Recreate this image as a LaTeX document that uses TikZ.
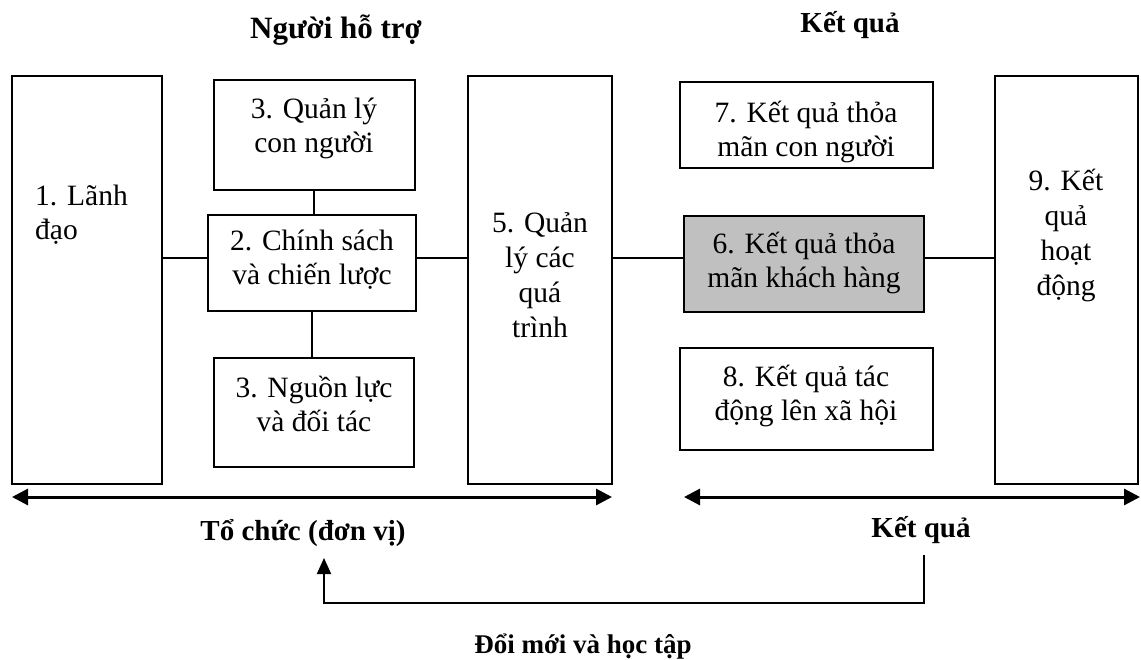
\documentclass[tikz,border=0pt]{standalone}
\usepackage{fontspec}
\setmainfont{Liberation Serif}
\usetikzlibrary{arrows.meta}
\newcommand{\mlines}[2][c]{\begin{tabular}[t]{@{}#1@{}}#2\end{tabular}}
\begin{document}
\begin{tikzpicture}[x=1pt,y=-1pt,
  box/.style={draw=black, line width=2pt, inner sep=0pt},
  txt/.style={anchor=base, inner sep=0pt, font=\fontsize{29.5}{34}\selectfont},
  lbl/.style={anchor=base, inner sep=0pt, font=\bfseries\fontsize{29}{34}\selectfont},
  conn/.style={line width=2pt},
  dbl/.style={line width=3pt, {Triangle[length=16pt,width=16pt]}-{Triangle[length=16pt,width=16pt]}},
  fb/.style={line width=2pt, -{Triangle[length=16pt,width=14pt]}}]
\useasboundingbox (0,0) rectangle (1141,659);
% boxes
\node[box, minimum width=150pt, minimum height=408pt] (b1) at (87,280) {};
\node[box, minimum width=201pt, minimum height=110pt] (b3a) at (314.5,135) {};
\node[box, minimum width=208pt, minimum height=96pt] (b2) at (312,263) {};
\node[box, minimum width=200pt, minimum height=109pt] (b3b) at (314,412.5) {};
\node[box, minimum width=144pt, minimum height=408pt] (b5) at (540,280) {};
\node[box, minimum width=253pt, minimum height=86pt] (b7) at (806.5,125) {};
\node[box, fill={rgb,255:red,192;green,192;blue,192}, minimum width=240pt, minimum height=96pt] (b6) at (804,264) {};
\node[box, minimum width=253pt, minimum height=102pt] (b8) at (806.5,399) {};
\node[box, minimum width=143pt, minimum height=408pt] (b9) at (1066.5,280) {};
% texts
\node[txt, anchor=base west] (t1) at (35,205) {\mlines[l]{1. Lãnh\\đạo}};
\node[txt] (t3a) at (314,118) {\mlines{3. Quản lý\\con người}};
\node[txt] (t2) at (312,250) {\mlines{2. Chính sách\\và chiến lược}};
\node[txt] (t3b) at (314,397) {\mlines{3. Nguồn lực\\và đối tác}};
\node[txt, font=\fontsize{29.5}{35}\selectfont] (t5) at (540,232) {\mlines{5. Quản\\lý các\\quá\\trình}};
\node[txt] (t7) at (806,122) {\mlines{7. Kết quả thỏa\\mãn con người}};
\node[txt] (t6) at (804,253) {\mlines{6. Kết quả thỏa\\mãn khách hàng}};
\node[txt] (t8) at (806,386) {\mlines{8. Kết quả tác\\động lên xã hội}};
\node[txt, font=\fontsize{29.5}{35}\selectfont] (t9) at (1066,190) {\mlines{9. Kết\\quả\\hoạt\\động}};
% titles and labels
\node[lbl, font=\bfseries\fontsize{31}{34}\selectfont] (nht) at (336,38) {Người hỗ trợ};
\node[lbl] (kqt) at (850,32) {Kết quả};
\node[lbl] (tc) at (303,540) {Tổ chức (đơn vị)};
\node[lbl] (kqb) at (921,537) {Kết quả};
\node[lbl, font=\bfseries\fontsize{27}{32}\selectfont] (dm) at (583,653) {Đổi mới và học tập};
% connectors
\draw[conn] (b1.east |- 0,258) -- (b2.west |- 0,258);
\draw[conn] (b2.east |- 0,258) -- (b5.west |- 0,258);
\draw[conn] (b5.east |- 0,258) -- (b6.west |- 0,258);
\draw[conn] (b6.east |- 0,258) -- (b9.west |- 0,258);
\draw[conn] (b3a.south -| 314,0) -- (b2.north -| 314,0);
\draw[conn] (b2.south -| 312,0) -- (b3b.north -| 312,0);
% double arrows
\coordinate (la) at (12,497);
\coordinate (lb) at (612,497);
\coordinate (ra) at (684,497);
\coordinate (rb) at (1140,497);
\draw[dbl] (la) -- (lb);
\draw[dbl] (ra) -- (rb);
% feedback
\coordinate (fs) at (924,555);
\coordinate (fe) at (324,558);
\draw[fb] (fs) -- (924,603) -- (324,603) -- (fe);
\end{tikzpicture}
\end{document}
